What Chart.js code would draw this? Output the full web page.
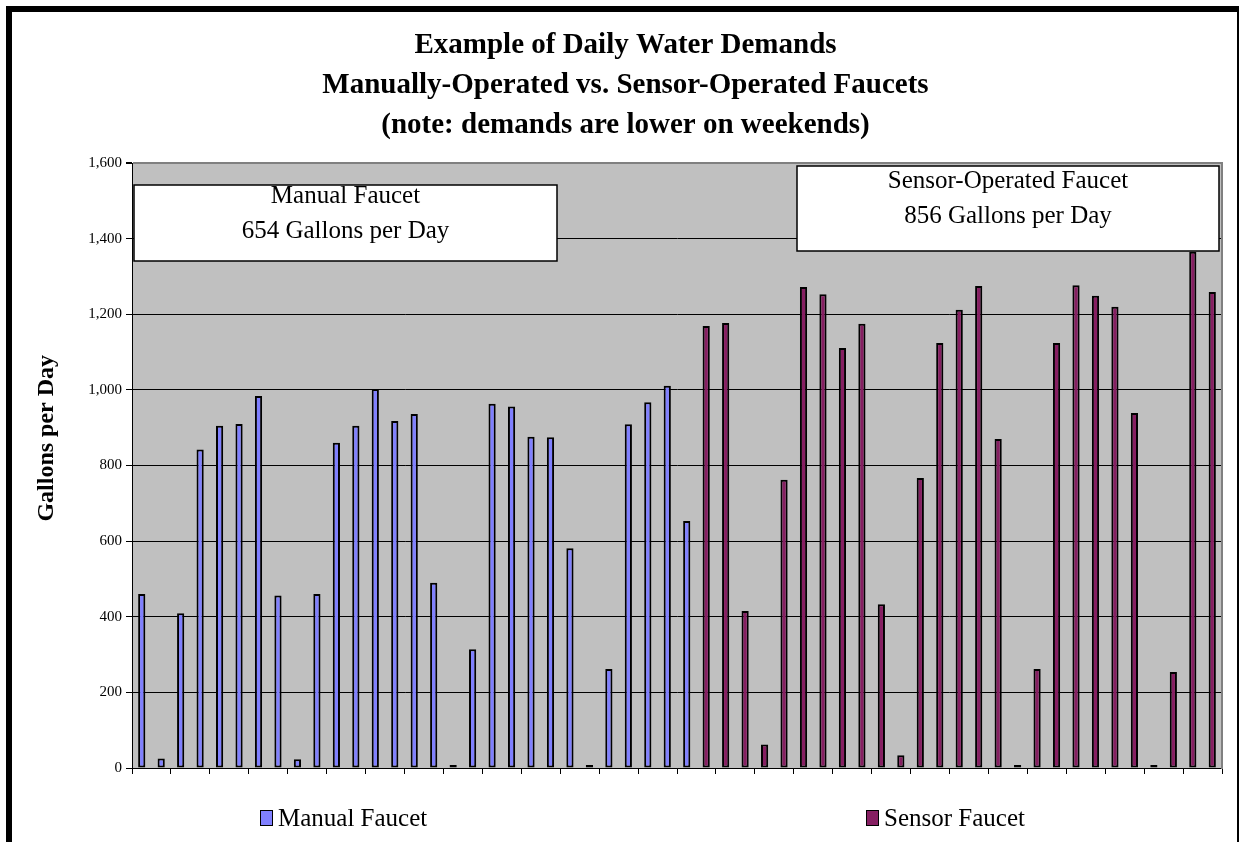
<!DOCTYPE html>
<html>
<head>
<meta charset="utf-8">
<title>Daily Water Demands</title>
<script src="https://cdn.jsdelivr.net/npm/chart.js@4.4.1/dist/chart.umd.min.js"></script>
<style>
  html, body { margin: 0; padding: 0; background: #fff; overflow: hidden; }
  #wrap { position: relative; width: 1239px; height: 842px; }
  #frame {
    position: absolute; left: 6px; top: 6px; width: 1233px; height: 900px;
    box-sizing: border-box; pointer-events: none;
    border-left: 6px solid #000; border-top: 6px solid #000; border-right: 2px solid #000;
  }
</style>
</head>
<body>
<div id="wrap">
  <canvas id="waterChart" width="1239" height="842"></canvas>
  <div id="frame"></div>
</div>
<script>
// ===== Data =====
const days = [
  '1', '2', '3', '4', '5', '6', '7', '8', '9', '10', '11', '12', '13', '14',
  '15', '16', '17', '18', '19', '20', '21', '22', '23', '24', '25', '26', '27', '28',
  '29', '30', '31', '32', '33', '34', '35', '36', '37', '38', '39', '40', '41', '42',
  '43', '44', '45', '46', '47', '48', '49', '50', '51', '52', '53', '54', '55', '56'
];
const manualGallons = [460, 25, 409, 842, 905, 910, 984, 456, 23, 460, 860, 905, 1002, 918, 936,
  490, 2, 314, 963, 956, 876, 875, 581, 8, 262, 909, 967, 1011, 653];
const sensorGallons = [1169, 1177, 415, 62, 762, 1272, 1253, 1111, 1175, 433, 34, 767, 1124, 1212,
  1275, 870, 8, 262, 1124, 1277, 1249, 1220, 939, 2, 254, 1365, 1259];
const yTicks = [0, 200, 400, 600, 800, 1000, 1200, 1400, 1600];

const titleLines = [
  'Example of Daily Water Demands',
  'Manually-Operated vs. Sensor-Operated Faucets',
  '(note: demands are lower on weekends)'
];
const yTitle = 'Gallons per Day';
const noteLines = [
  ['Manual Faucet', '654 Gallons per Day'],
  ['Sensor-Operated Faucet', '856 Gallons per Day']
];

const SERIF = "'Liberation Serif', 'Times New Roman', serif";
const BLUE = '#8080ff';
const PLUM = '#861f62';

// manual days come first, sensor days after
const manualSeries = manualGallons.concat(sensorGallons.map(() => null));
const sensorSeries = manualGallons.map(() => null).concat(sensorGallons);

// ===== Plugins =====
const plotBackground = {
  id: 'plotBackground',
  beforeDraw(chart) {
    const { ctx, chartArea: a } = chart;
    ctx.save();
    ctx.fillStyle = '#c0c0c0';
    ctx.fillRect(a.left, a.top, a.right - a.left, a.bottom - a.top);
    ctx.restore();
  }
};

// y title sits a bit above the middle of the axis, like the original
const axisTitle = {
  id: 'axisTitle',
  afterDraw(chart) {
    const { ctx, chartArea: a } = chart;
    ctx.save();
    ctx.translate(47, a.top + (a.bottom - a.top) * 0.455);
    ctx.rotate(-Math.PI / 2);
    ctx.font = 'bold 24px ' + SERIF;
    ctx.fillStyle = '#000';
    ctx.textAlign = 'center';
    ctx.textBaseline = 'middle';
    ctx.fillText(yTitle, 0, 0);
    ctx.restore();
  }
};

const noteBoxes = {
  id: 'noteBoxes',
  afterDatasetsDraw(chart) {
    const { ctx, chartArea: a } = chart;
    const boxes = [
      { x: a.left + 2, y: a.top + 22, w: 423, h: 76, first: 11 },
      { x: a.right - 425, y: a.top + 3, w: 422, h: 85, first: 15 }
    ];
    ctx.save();
    boxes.forEach((b, i) => {
      ctx.fillStyle = '#fff';
      ctx.fillRect(b.x, b.y, b.w, b.h);
      ctx.strokeStyle = '#000';
      ctx.lineWidth = 1.5;
      ctx.strokeRect(b.x, b.y, b.w, b.h);
      ctx.fillStyle = '#000';
      ctx.font = '25px ' + SERIF;
      ctx.textAlign = 'center';
      ctx.textBaseline = 'middle';
      noteLines[i].forEach((line, j) => {
        ctx.fillText(line, b.x + b.w / 2, b.y + b.first + j * 35);
      });
    });
    ctx.restore();
  }
};

const bottomLegend = {
  id: 'bottomLegend',
  afterDraw(chart) {
    const { ctx, width } = chart;
    const spots = [0.21, 0.699];
    const y = 818;
    ctx.save();
    ctx.font = '25px ' + SERIF;
    ctx.textBaseline = 'middle';
    ctx.textAlign = 'left';
    chart.data.datasets.forEach((ds, i) => {
      const x = Math.round(width * spots[i]);
      ctx.fillStyle = ds.backgroundColor;
      ctx.fillRect(x, y - 8, 13, 16);
      ctx.strokeStyle = '#000';
      ctx.lineWidth = 1;
      ctx.strokeRect(x + 0.5, y - 7.5, 12, 15);
      ctx.fillStyle = '#000';
      ctx.fillText(ds.label, x + 18, y + 1);
    });
    ctx.restore();
  }
};

// ===== Chart =====
new Chart(document.getElementById('waterChart').getContext('2d'), {
  type: 'bar',
  data: {
    labels: days,
    datasets: [
      {
        label: 'Manual Faucet',
        data: manualSeries,
        backgroundColor: BLUE
      },
      {
        label: 'Sensor Faucet',
        data: sensorSeries,
        backgroundColor: PLUM
      }
    ]
  },
  options: {
    responsive: false,
    animation: false,
    layout: { padding: { top: 6, left: 12, right: 0, bottom: 68 } },
    datasets: {
      bar: {
        grouped: false,
        borderColor: '#000',
        borderWidth: 2,
        borderSkipped: false,
        barPercentage: 0.37,
        categoryPercentage: 1,
        minBarLength: 3
      }
    },
    plugins: {
      legend: { display: false },
      tooltip: { enabled: false },
      title: {
        display: true,
        text: titleLines,
        color: '#000',
        font: { family: SERIF, size: 29, weight: 'bold', lineHeight: 40 / 29 },
        padding: { top: 20, bottom: 17 }
      }
    },
    scales: {
      x: {
        ticks: { display: false },
        grid: {
          drawOnChartArea: false,
          tickLength: 6,
          color: c => (c.index === undefined || c.index % 2 === 0) ? '#000' : 'rgba(0,0,0,0)'
        },
        border: { color: '#000', width: 1 }
      },
      y: {
        min: 0,
        max: 1600,
        afterBuildTicks: s => { s.ticks = yTicks.map(v => ({ value: v })); },
        afterFit: s => { s.width = 120; },
        ticks: {
          color: '#000',
          padding: 4,
          font: { family: SERIF, size: 15 },
          callback: v => v.toLocaleString('en-US')
        },
        grid: {
          tickLength: 6,
          tickColor: '#000',
          color: c => c.tick && c.tick.value === 1600 ? '#808080' : '#000',
          lineWidth: c => c.tick && c.tick.value === 1600 ? 2 : 1
        },
        border: { color: '#000', width: 1 }
      },
      y2: {
        position: 'right',
        afterFit: s => { s.width = 17; },
        ticks: { display: false },
        grid: { display: false },
        border: { color: '#808080', width: 2 }
      }
    }
  },
  plugins: [plotBackground, noteBoxes, bottomLegend, axisTitle]
});
</script>
</body>
</html>
